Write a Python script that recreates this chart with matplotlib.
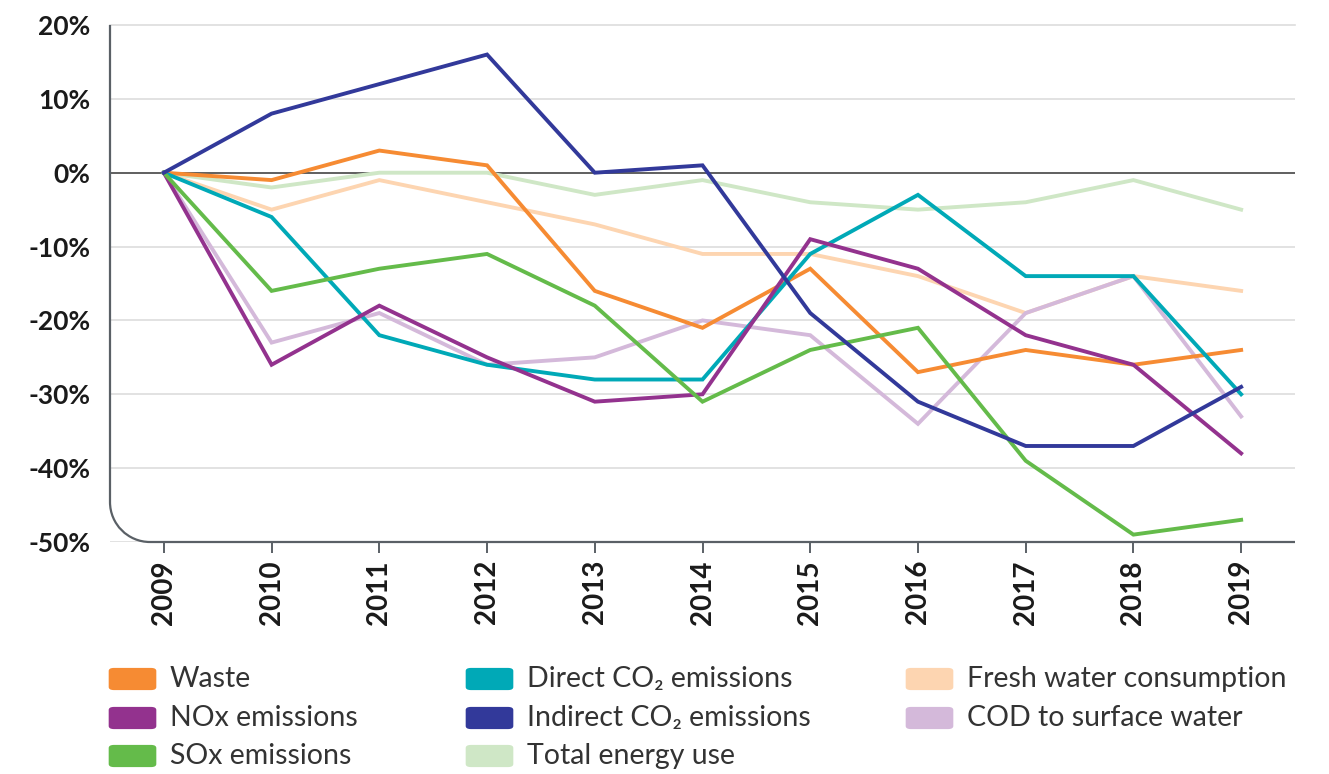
import matplotlib.pyplot as plt
from matplotlib.path import Path
from matplotlib.patches import PathPatch, FancyBboxPatch

years = [2009, 2010, 2011, 2012, 2013, 2014, 2015, 2016, 2017, 2018, 2019]

waste = [0, -1, 3, 1, -16, -21, -13, -27, -24, -26, -24]
direct_co2 = [0, -6, -22, -26, -28, -28, -11, -3, -14, -14, -30]
fresh_water = [0, -5, -1, -4, -7, -11, -11, -14, -19, -14, -16]
nox = [0, -26, -18, -25, -31, -30, -9, -13, -22, -26, -38]
indirect_co2 = [0, 8, 12, 16, 0, 1, -19, -31, -37, -37, -29]
cod = [0, -23, -19, -26, -25, -20, -22, -34, -19, -14, -33]
sox = [0, -16, -13, -11, -18, -31, -24, -21, -39, -49, -47]
energy = [0, -2, 0, 0, -3, -1, -4, -5, -4, -1, -5]

y_ticks = [20, 10, 0, -10, -20, -30, -40, -50]

# legend, row by row
legend_labels = [
    ['Waste', 'Direct CO₂ emissions', 'Fresh water consumption'],
    ['NOx emissions', 'Indirect CO₂ emissions', 'COD to surface water'],
    ['SOx emissions', 'Total energy use'],
]
legend_colors = [
    ['#F68B33', '#00A9B7', '#FDD5B1'],
    ['#93328E', '#32399A', '#D4B9DA'],
    ['#64BB4A', '#CFE7C6'],
]

FONT = ['Lato', 'DejaVu Sans']

fig = plt.figure(figsize=(13.29, 7.74), dpi=100)
W, H = 1329, 774
ax = fig.add_axes([110 / W, 1 - 542 / H, (1295 - 110) / W, (542 - 25) / H])

ax.set_xlim(2008.5, 2019.5)
ax.set_ylim(-50, 20)

for v in y_ticks:
    if v == 0 or v == 20:
        continue
    ax.axhline(v, color='#dddddd', lw=1.2, zorder=0)
ax.plot([2008.5, 2019.5], [20, 20], color='#dddddd', lw=1.2, zorder=0, clip_on=False)
ax.axhline(0, color='#444444', lw=1.2, zorder=1)

series = [
    (energy, '#CFE7C6'),
    (fresh_water, '#FDD5B1'),
    (cod, '#D4B9DA'),
    (waste, '#F68B33'),
    (direct_co2, '#00A9B7'),
    (nox, '#93328E'),
    (sox, '#64BB4A'),
    (indirect_co2, '#32399A'),
]
for vals, c in series:
    ax.plot(years, vals, color=c, lw=2.8, solid_joinstyle='miter', zorder=3)

for s in ax.spines.values():
    s.set_visible(False)

# left + bottom axis line with rounded corner
rx, ry = 40 / 1185, 40 / 517
k = 0.5523
verts = [(0, 1), (0, ry), (0, ry * (1 - k)), (rx * (1 - k), 0), (rx, 0), (1, 0)]
codes = [Path.MOVETO, Path.LINETO, Path.CURVE4, Path.CURVE4, Path.CURVE4, Path.LINETO]
ax.add_patch(PathPatch(Path(verts, codes), transform=ax.transAxes, fill=False,
                       edgecolor='#5a6066', lw=1.6, clip_on=False, zorder=4))

ax.set_xticks(years)
ax.set_xticklabels([str(y) for y in years], rotation=90, fontsize=20,
                   family=FONT, fontweight='bold', color='#1a1a1a')
ax.tick_params(axis='x', length=8, width=1.4, color='#5a6066', pad=5)
ax.set_yticks(y_ticks)
ax.set_yticklabels([f'{v}%' for v in y_ticks], fontsize=19, family=FONT,
                   fontweight='bold', color='#1a1a1a')
ax.tick_params(axis='y', length=0, pad=14)

# legend drawn by hand
col_x = [110, 467, 907]
row_y = [679, 718, 756]
for r, (labels, colors) in enumerate(zip(legend_labels, legend_colors)):
    for c, (lab, col) in enumerate(zip(labels, colors)):
        x0 = col_x[c]
        y0 = row_y[r]
        fig.patches.append(FancyBboxPatch(
            ((x0 + 4) / W, 1 - (y0 + 8) / H), 37 / W, 16 / H,
            boxstyle='round,pad=0.004', transform=fig.transFigure,
            facecolor=col, edgecolor='none'))
        fig.text((x0 + 60) / W, 1 - y0 / H, lab, fontsize=20.5, family=FONT,
                 color='#333333', va='center', ha='left')

fig.savefig('out.png', dpi=100)
